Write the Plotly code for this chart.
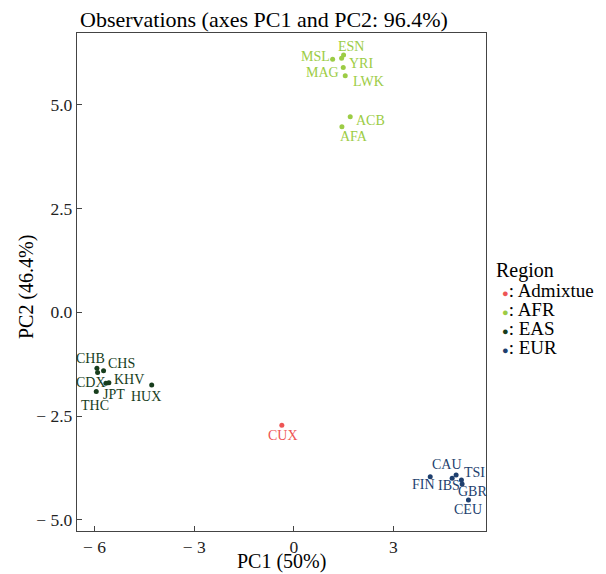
import plotly.graph_objects as go

# ---- data ----
populations = ["CUX", "ESN", "YRI", "MSL", "MAG", "LWK", "ACB", "AFA",
               "CHB", "CHS", "CDX", "KHV", "JPT", "THC", "HUX",
               "FIN", "CAU", "TSI", "IBS", "GBR", "CEU"]
regions = ["Admixtue", "AFR", "AFR", "AFR", "AFR", "AFR", "AFR", "AFR",
           "EAS", "EAS", "EAS", "EAS", "EAS", "EAS", "EAS",
           "EUR", "EUR", "EUR", "EUR", "EUR", "EUR"]
pc1 = [-0.36, 1.50, 1.44, 1.17, 1.49, 1.55, 1.70, 1.45,
       -5.93, -5.73, -5.91, -5.57, -5.66, -5.95, -4.28,
       4.11, 4.89, 5.05, 4.77, 5.07, 5.26]
pc2 = [-2.72, 6.20, 6.12, 6.10, 5.90, 5.70, 4.71, 4.47,
       -1.35, -1.41, -1.45, -1.70, -1.71, -1.91, -1.75,
       -3.96, -3.92, -4.04, -4.00, -4.14, -4.52]

region_names = ["Admixtue", "AFR", "EAS", "EUR"]
region_colors = ["#EE5555", "#9CCC45", "#173D1C", "#1E3F6E"]

x_ticks = [-6, -3, 0, 3]
x_ticktext = ["\u2212 6", "\u2212 3", "0", "3"]
y_ticks = [5.0, 2.5, 0.0, -2.5, -5.0]
y_ticktext = ["5.0", "2.5", "0.0", "\u2212 2.5", "\u2212 5.0"]

# label offsets (pixels, screen: dx right, dy up) -- style only
label_offsets = {
    "ESN": (7.5, 9), "MSL": (-17, 2.6), "YRI": (19, -4.8), "MAG": (-20.5, -5.4),
    "LWK": (22.8, -6), "ACB": (19.8, -3.3), "AFA": (11.6, -10),
    "CHB": (-6, 10), "CHS": (18, 7.4), "CDX": (-6.6, -10), "KHV": (20.5, 3.4),
    "JPT": (8.3, -11.7), "HUX": (-5.7, -11.7), "THC": (-1, -14.3),
    "CAU": (-9.3, 10), "TSI": (13, 7.3), "FIN": (-7.2, -7.6), "IBS": (-3.2, -7.5),
    "GBR": (10.2, -7.7), "CEU": (0, -9.3), "CUX": (1.6, -10),
}

FONT = "Liberation Serif"
color_of = dict(zip(region_names, region_colors))

fig = go.Figure()
for name, col in zip(region_names, region_colors):
    xs = [x for x, r in zip(pc1, regions) if r == name]
    ys = [y for y, r in zip(pc2, regions) if r == name]
    fig.add_trace(go.Scatter(x=xs, y=ys, mode="markers", name=name,
                             marker=dict(color=col, size=5), showlegend=False))

annotations = []
for p, r, x, y in zip(populations, regions, pc1, pc2):
    dx, dy = label_offsets.get(p, (0, -10))
    annotations.append(dict(x=x, y=y, xref="x", yref="y", text=p, showarrow=False,
                            xshift=dx, yshift=dy, borderpad=0,
                            font=dict(family=FONT, size=14, color=color_of[r])))

# axis titles
annotations.append(dict(x=0.5, y=1 - (574 - 33) / 498, xref="paper", yref="paper",
                        xanchor="center", yanchor="bottom", text="PC1 (50%)", showarrow=False,
                        borderpad=0, font=dict(family=FONT, size=20, color="#000000")))
annotations.append(dict(x=(26 - 77) / 409, y=1 - (287 - 33) / 498, xref="paper", yref="paper",
                        xanchor="center", yanchor="middle", text="PC2 (46.4%)", showarrow=False,
                        textangle=-90, font=dict(family=FONT, size=20, color="#000000")))

# legend (ggplot-style) built from region names/colors
annotations.append(dict(x=(494 - 77) / 409, y=1 - (270.7 - 33) / 498, xref="paper", yref="paper",
                        xanchor="left", yanchor="middle", text="Region", showarrow=False,
                        font=dict(family=FONT, size=20, color="#000000")))
for i, (name, col) in enumerate(zip(region_names, region_colors)):
    ypx = 290.7 + i * 18.9
    annotations.append(dict(x=(501 - 77) / 409, y=1 - (ypx - 33) / 498, xref="paper", yref="paper",
                            xanchor="left", yanchor="middle", showarrow=False, borderpad=0,
                            text=f"<span style='color:{col};font-size:11px'>\u25CF</span>: {name}",
                            font=dict(family=FONT, size=19, color="#000000")))

axis_common = dict(showgrid=False, zeroline=False, showline=True, linecolor="#444444",
                   linewidth=1.3, mirror=True, ticks="inside", ticklen=5, tickwidth=1.2,
                   tickcolor="#444444", tickfont=dict(family=FONT, size=17.5, color="#222222"))

fig.update_layout(
    width=606, height=574,
    margin=dict(l=77, r=120, t=33, b=43),
    plot_bgcolor="white", paper_bgcolor="white",
    title=dict(text="Observations (axes PC1 and PC2: 96.4%)", x=80 / 606, xanchor="left",
               y=1 - 19 / 574, yanchor="middle", xref="container", yref="container",
               font=dict(family=FONT, size=22, color="#000000")),
    xaxis=dict(range=[-6.53, 5.79], tickvals=x_ticks, ticktext=x_ticktext,
               automargin=False, **axis_common),
    yaxis=dict(range=[-5.27, 6.73], tickvals=y_ticks, ticktext=y_ticktext,
               automargin=False, **axis_common),
    annotations=annotations,
    showlegend=False,
)

fig.write_html("out.html")
